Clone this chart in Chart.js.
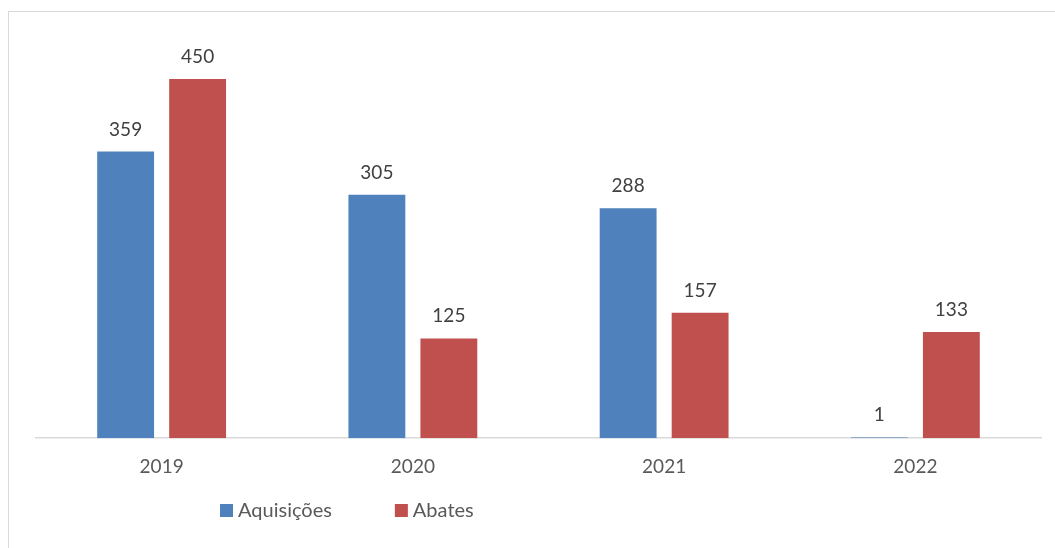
<!DOCTYPE html>
<html>
<head>
<meta charset="utf-8">
<script src="https://cdn.jsdelivr.net/npm/chart.js@4"></script>
<style>
  html, body { margin: 0; padding: 0; background: #fff; }
  #wrap { position: relative; width: 1055px; height: 548px; }
</style>
</head>
<body>
<div id="wrap"><canvas id="chart"></canvas></div>
<script>
'use strict';

const years = ['2019', '2020', '2021', '2022'];
const aquisicoes = [359, 305, 288, 1];
const abates = [450, 125, 157, 133];

const fontFamily = 'Lato, "Open Sans", sans-serif';
const fontSize = 19;

// frame around the chart, open to the right and bottom
const framePlugin = {
  id: 'frame',
  beforeDraw: (chart) => {
    const { ctx } = chart;
    ctx.save();
    ctx.strokeStyle = '#d9d9d9';
    ctx.lineWidth = 1;
    ctx.strokeRect(8.5, 11.5, 1200, 700);
    ctx.restore();
  },
};

// value above each bar
const valueLabels = {
  id: 'valueLabels',
  afterDatasetsDraw: (chart) => {
    const { ctx } = chart;
    ctx.save();
    ctx.font = `${fontSize}px ${fontFamily}`;
    ctx.fillStyle = '#404040';
    ctx.textAlign = 'center';
    ctx.textBaseline = 'alphabetic';
    chart.data.datasets.forEach((ds, i) => {
      chart.getDatasetMeta(i).data.forEach((bar, j) => {
        ctx.fillText(String(ds.data[j]), bar.x, bar.y - 16);
      });
    });
    ctx.restore();
  },
};

// legend row under the axis
const bottomLegend = {
  id: 'bottomLegend',
  afterDraw: (chart) => {
    const { ctx } = chart;
    ctx.save();
    ctx.font = `20px ${fontFamily}`;
    ctx.textBaseline = 'alphabetic';
    ctx.textAlign = 'left';
    let x = 220;
    const top = 504;
    chart.data.datasets.forEach((ds) => {
      ctx.fillStyle = ds.backgroundColor;
      ctx.fillRect(x, top, 13, 13);
      ctx.fillStyle = '#595959';
      ctx.fillText(ds.label, x + 18, top + 13);
      x += 18 + ctx.measureText(ds.label).width + 63;
    });
    ctx.restore();
  },
};

new Chart(document.getElementById('chart'), {
  type: 'bar',
  data: {
    labels: years,
    datasets: [
      {
        label: 'Aquisições',
        data: aquisicoes,
        backgroundColor: '#4F81BD',
        categoryPercentage: 0.573,
        barPercentage: 0.79,
      },
      {
        label: 'Abates',
        data: abates,
        backgroundColor: '#C0504D',
        categoryPercentage: 0.573,
        barPercentage: 0.79,
      },
    ],
  },
  options: {
    responsive: true,
    maintainAspectRatio: false,
    animation: false,
    layout: {
      padding: { left: 36, right: 14, top: 39, bottom: 61 },
    },
    scales: {
      x: {
        grid: { display: false },
        border: { display: true, color: '#d9d9d9', width: 1.5 },
        ticks: {
          color: '#595959',
          padding: 9,
          font: { family: fontFamily, size: fontSize },
        },
      },
      y: {
        display: false,
        min: 0,
        max: 500,
      },
    },
    plugins: {
      legend: { display: false },
      tooltip: { enabled: false },
    },
  },
  plugins: [framePlugin, valueLabels, bottomLegend],
});
</script>
</body>
</html>
